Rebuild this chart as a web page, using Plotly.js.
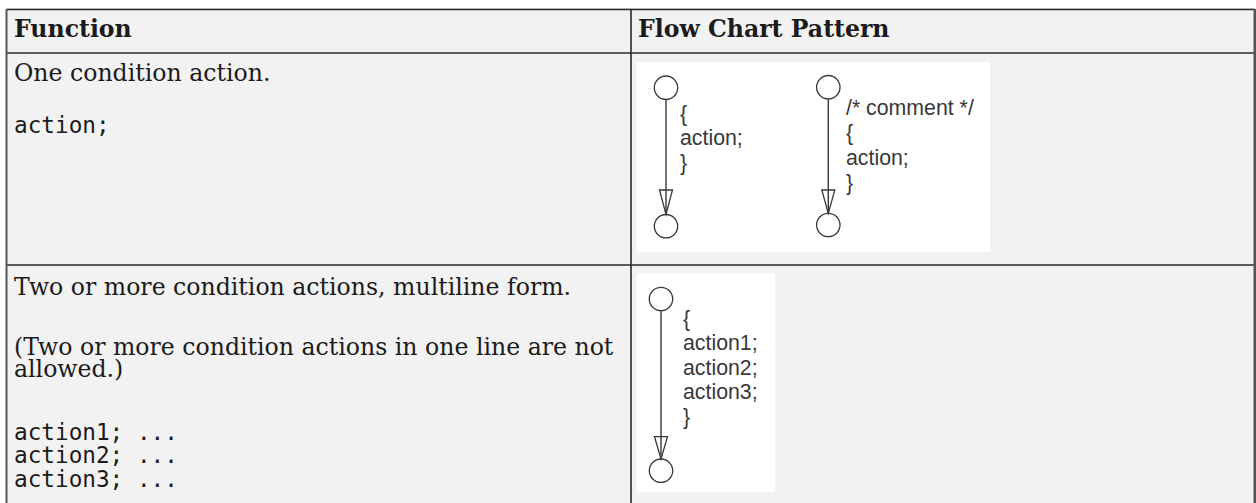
<!DOCTYPE html>
<html><head><meta charset="utf-8">
<script src="https://cdn.plot.ly/plotly-3.0.1.min.js"></script>
<style>html,body{margin:0;padding:0;background:#fff;overflow:hidden}#chart{width:1256px;height:503px}</style>
</head><body><div id="chart"></div>
<script>
// ---------- text content ----------
const columnHeaders = ['Function', 'Flow Chart Pattern'];
const row1Description = ['One condition action.'];
const row1Code = ['action;'];
const row2Description = ['Two or more condition actions, multiline form.'];
const row2Note = ['(Two or more condition actions in one line are not', 'allowed.)'];
const row2Code = ['action1; ...', 'action2; ...', 'action3; ...'];
const patternSingle = ['{', 'action;', '}'];
const patternComment = ['/* comment */', '{', 'action;', '}'];
const patternMulti = ['{', 'action1;', 'action2;', 'action3;', '}'];

// ---------- geometry / style ----------
const W = 1256, H = 503;
const T = {left: 6.5, right: 1255, top: 9, headBottom: 53, row1Bottom: 265, bottom: 503, divider: 631};
const SERIF = 'DejaVu Serif', MONO = 'DejaVu Sans Mono', SANS = 'Liberation Sans, Arial, sans-serif';
const S = 23.6, M = 22.7, F = 21.3;
const TXT = '#1b1b1b', FIG = '#383838';
const ASC = 0.346; // baseline -> text box centre, in em

const annotations = [];
function addLine(text, x, baseline, family, size, color, bold) {
  annotations.push({
    x: x, y: baseline - ASC * size, xref: 'x', yref: 'y',
    xanchor: 'left', yanchor: 'middle', showarrow: false, align: 'left',
    borderpad: 0, borderwidth: 0,
    text: bold ? '<b>' + text + '</b>' : text,
    font: {family: family, size: size, color: color}
  });
}
function addBlock(lines, x, firstBaseline, step, family, size, color, bold) {
  lines.forEach((t, i) => addLine(t, x, firstBaseline + i * step, family, size, color, bold));
}

// header
const colX = [T.left + 7, T.divider + 7];
columnHeaders.forEach((h, i) => addLine(h, colX[i], 37.3, SERIF, S, TXT, true));
// row 1
addBlock(row1Description, colX[0], 80.7, 0, SERIF, S, TXT);
addBlock(row1Code, colX[0], 133.3, 23.3, MONO, M, TXT);
// row 2
addBlock(row2Description, colX[0], 295, 0, SERIF, S, TXT);
addBlock(row2Note, colX[0], 354.7, 22.7, SERIF, S, TXT);
addBlock(row2Code, colX[0], 440, 23.2, MONO, M, TXT);

// flow chart figures
const figBoxes = [
  {x0: 636.7, x1: 990, y0: 62, y1: 252},
  {x0: 636.7, x1: 775, y0: 273.3, y1: 491.7}
];
const charts = [
  {cx: 666, topCy: 87.7, botCy: 226.2, arrowTop: 190, textX: 680, base: 121, step: 24.7, lines: patternSingle},
  {cx: 828.3, topCy: 87.2, botCy: 225, arrowTop: 190, textX: 846, base: 115, step: 25, lines: patternComment},
  {cx: 661, topCy: 299, botCy: 470.7, arrowTop: 436.7, textX: 683.3, base: 326, step: 24.6, lines: patternMulti}
];
const R = 11.7, HALF = 6.5;

const shapes = [];
// cell background
shapes.push({type: 'rect', xref: 'x', yref: 'y', x0: T.left, x1: T.right, y0: T.top, y1: T.bottom,
  fillcolor: '#f2f2f2', line: {width: 0}, layer: 'below'});
figBoxes.forEach(b => shapes.push({type: 'rect', xref: 'x', yref: 'y', x0: b.x0, x1: b.x1, y0: b.y0, y1: b.y1,
  fillcolor: '#ffffff', line: {width: 0}, layer: 'below'}));
// borders
function hline(y, x0, x1, c, w) { shapes.push({type: 'line', xref: 'x', yref: 'y', x0: x0, x1: x1, y0: y, y1: y, line: {color: c, width: w}}); }
function vline(x, y0, y1, c, w) { shapes.push({type: 'line', xref: 'x', yref: 'y', x0: x, x1: x, y0: y0, y1: y1, line: {color: c, width: w}}); }
hline(T.top - 0.5, T.left, T.right, '#b0b0b0', 1);
hline(T.top + 0.6, T.left, T.right, '#2a2a2a', 1.4);
hline(T.headBottom, T.left, T.right, '#2a2a2a', 1.6);
hline(T.row1Bottom, T.left, T.right, '#2a2a2a', 1.6);
vline(T.left, T.top, T.bottom, '#555555', 2);
vline(T.divider, T.top, T.bottom, '#2a2a2a', 1.6);
vline(T.right, T.top, T.bottom, '#555555', 3);

// figure marks
const lx = [], ly = [];
charts.forEach(c => {
  [c.topCy, c.botCy].forEach(cy => shapes.push({type: 'circle', xref: 'x', yref: 'y',
    x0: c.cx - R, x1: c.cx + R, y0: cy - R, y1: cy + R, line: {color: FIG, width: 1.3}, fillcolor: 'rgba(0,0,0,0)'}));
  const tip = c.botCy - R;
  shapes.push({type: 'path', xref: 'x', yref: 'y',
    path: `M ${c.cx - HALF},${c.arrowTop} L ${c.cx + HALF},${c.arrowTop} L ${c.cx},${tip} Z`,
    line: {color: FIG, width: 1.3}, fillcolor: 'rgba(0,0,0,0)'});
  lx.push(c.cx, c.cx, null); ly.push(c.topCy + R, tip, null);
  addBlock(c.lines, c.textX, c.base, c.step, SANS, F, FIG);
});

const data = [{type: 'scatter', mode: 'lines', x: lx, y: ly, line: {color: FIG, width: 1.4},
  hoverinfo: 'skip', showlegend: false}];

const layout = {
  width: W, height: H, margin: {l: 0, r: 0, t: 0, b: 0, pad: 0},
  paper_bgcolor: '#ffffff', plot_bgcolor: '#ffffff', showlegend: false,
  xaxis: {range: [0, W], visible: false, fixedrange: true},
  yaxis: {range: [H, 0], visible: false, fixedrange: true},
  shapes: shapes, annotations: annotations
};
Plotly.newPlot('chart', data, layout, {staticPlot: true, displayModeBar: false});
</script></body></html>
